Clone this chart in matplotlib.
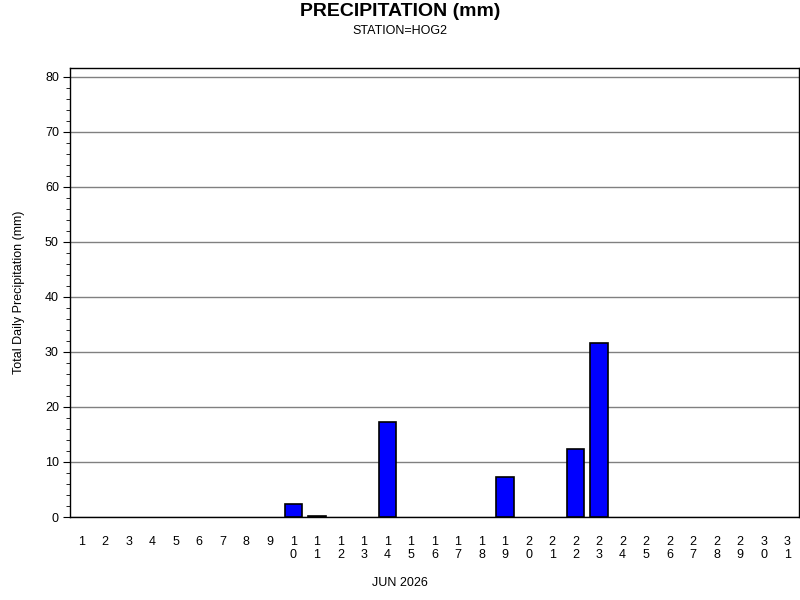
import numpy as np
import matplotlib
matplotlib.use("Agg")
import matplotlib.pyplot as plt
from matplotlib.ticker import MultipleLocator

plt.rcParams["font.family"] = ["Liberation Sans", "DejaVu Sans"]

# 数据
days = list(range(1, 32))
rain = [0, 0, 0, 0, 0, 0, 0, 0, 0, 2.4,
        0.2, 0, 0, 17.3, 0, 0, 0, 0, 7.3, 0,
        0, 12.4, 31.6, 0, 0, 0, 0, 0, 0, 0, 0]
day_labels = ["\n".join(str(d)) for d in days]

fig = plt.figure(figsize=(8, 6), dpi=100)
ax = fig.add_axes([0.0875, 0.1383, 0.91125, 0.7484])

# 只画非零的柱子
x = np.array(days)
y = np.array(rain)
keep = y > 0
ax.bar(x[keep], y[keep], width=0.75, color="#0000ff", edgecolor="black", linewidth=1.2, zorder=3)

ax.set_xlim(0.5, 31.5)
ax.set_ylim(0, 81.6)
ax.yaxis.set_major_locator(MultipleLocator(10))
ax.yaxis.set_minor_locator(MultipleLocator(2))
ax.grid(axis="y", color="#808080", linewidth=1, zorder=1)

ax.set_xticks(days)
ax.set_xticklabels(day_labels, fontsize=9, va="top", linespacing=1.1)
ax.tick_params(axis="x", length=0, pad=14)
ax.tick_params(axis="y", which="major", length=5, labelsize=9, pad=3)
ax.tick_params(axis="y", which="minor", length=3)

for s in ax.spines.values():
    s.set_linewidth(1)

ax.set_ylabel("Total Daily Precipitation (mm)", fontsize=9, labelpad=14)
fig.text(0.5, 0.028, "JUN 2026", ha="center", va="center", fontsize=9)
fig.text(0.5, 0.980, "PRECIPITATION (mm)", ha="center", va="center", fontsize=14, fontweight="bold")
fig.text(0.5, 0.949, "STATION=HOG2", ha="center", va="center", fontsize=9)

fig.savefig("out.png", dpi=100)
